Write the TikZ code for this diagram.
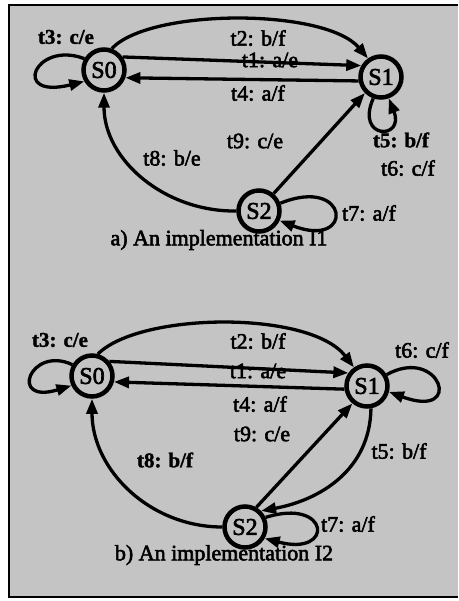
\documentclass[tikz,border=0pt]{standalone}
\usepackage{fontspec}
\setmainfont{Liberation Serif}
\newfontfamily\inkfont{Liberation Serif}[FakeBold=2.5]
\newfontfamily\inkbold{Liberation Serif Bold}[FakeBold=1.5]
\usetikzlibrary{arrows.meta}
\definecolor{halftone}{gray}{0.77}
\begin{document}
\begin{tikzpicture}[x=1pt,y=-1pt,
  state/.style={circle,draw,line width=4.5pt,minimum size=41pt,inner sep=0pt,
    font=\inkfont\fontsize{24}{24}\selectfont},
  edge/.style={line width=3.3pt,-{Triangle[length=15pt,width=11pt]}},
  lbl/.style={font=\inkfont\fontsize{22}{22}\selectfont,inner sep=0pt},
  blbl/.style={font=\inkbold\fontsize{21}{21}\selectfont,inner sep=0pt},
  caption/.style={font=\inkfont\fontsize{22}{22}\selectfont,inner sep=0pt}]
\useasboundingbox (0,0) rectangle (458,601);
% shaded sheet and its frame
\fill[halftone] (9,5) rectangle (458,597);
\draw[line width=2.5pt] (458,5) -- (9,5) -- (9,597) -- (458,597);

% ---- a) implementation I1 ----
\node[state] (a0) at (104,70) {S0};
\node[state] (a1) at (381,77) {S1};
\node[state] (a2) at (259,211) {S2};

\draw[edge] (a0.70) .. controls (150,8) and (325,8) .. (a1.125);
\draw[edge] (a0.35) -- (a1.150);
\draw[edge] (a1.190) -- (a0.-20);
\draw[edge] (a0.150) .. controls (35,40) and (10,100) .. (a0.210);
\draw[edge] (a1.250) .. controls (355,140) and (405,140) .. (a1.290);
\draw[edge] (a2.20) .. controls (350,175) and (355,250) .. (a2.-25);
\draw[edge] (a2.west) .. controls (165,212) and (104,160) .. (a0.south);
\draw[edge] (a2.50) -- (a1.225);

\node[blbl] (la3) at (66,37) {t3: c/e};
\node[lbl] (la2) at (258,38) {t2: b/f};
\node[lbl] (la1) at (270,60) {t1: a/e};
\node[lbl] (la4) at (258,93) {t4: a/f};
\node[lbl] (la9) at (255,141) {t9: c/e};
\node[blbl] (la5) at (401,140) {t5: b/f};
\node[lbl] (la6) at (408,168) {t6: c/f};
\node[lbl] (la8) at (172,158) {t8: b/e};
\node[lbl] (la7) at (369,213) {t7: a/f};
\node[caption] (capa) at (219,240) {a) An implementation I1};

% ---- b) implementation I2 ----
\node[state] (b0) at (92,376) {S0};
\node[state] (b1) at (367,386) {S1};
\node[state] (b2) at (245,527) {S2};

\draw[edge] (b0.75) .. controls (140,312) and (310,310) .. (b1.125);
\draw[edge] (b0.40) -- (b1.145);
\draw[edge] (b1.188) -- (b0.-15);
\draw[edge] (b0.150) .. controls (30,345) and (8,405) .. (b0.205);
\draw[edge] (b1.30) .. controls (440,345) and (465,420) .. (b1.-15);
\draw[edge] (b1.-80) .. controls (370,470) and (320,500) .. (b2.45);
\draw[edge] (b2.60) -- (b1.230);
\draw[edge] (b2.west) .. controls (150,527) and (92,470) .. (b0.south);
\draw[edge] (b2.25) .. controls (330,497) and (335,557) .. (b2.-30);

\node[blbl] (lb3) at (60,340) {t3: c/e};
\node[lbl] (lb2) at (258,341) {t2: b/f};
\node[lbl] (lb1) at (258,371) {t1: a/e};
\node[lbl] (lb4) at (260,404) {t4: a/f};
\node[lbl] (lb9) at (262,434) {t9: c/e};
\node[lbl] (lb6) at (422,350) {t6: c/f};
\node[lbl] (lb5) at (399,451) {t5: b/f};
\node[blbl] (lb8) at (165,460) {t8: b/f};
\node[lbl] (lb7) at (348,524) {t7: a/f};
\node[caption] (capb) at (224,555) {b) An implementation I2};
\end{tikzpicture}
\end{document}
